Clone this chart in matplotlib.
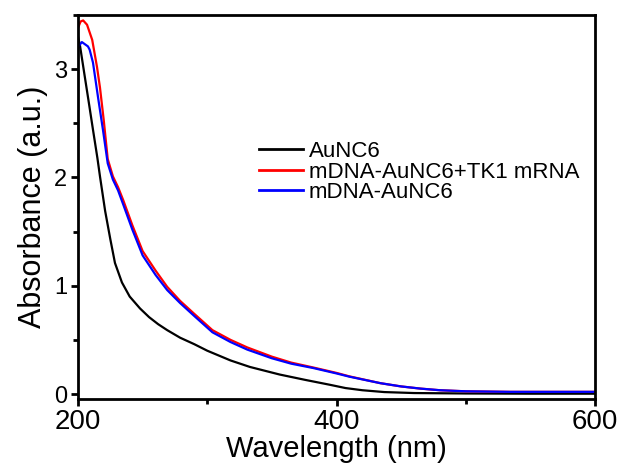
import matplotlib
matplotlib.use("Agg")
import matplotlib.pyplot as plt
from matplotlib.ticker import MultipleLocator

plt.rcParams['font.family'] = ['Liberation Sans', 'DejaVu Sans']

# Wavelength (nm) and absorbance values
wl_black = [200, 201.5, 205, 208, 211.6, 215, 217, 221, 225, 228.6, 234, 240, 248, 255, 262, 269, 279,
            290, 300, 318, 333, 356, 376, 395, 407, 420, 437, 460, 500, 550, 600]
abs_black = [3.30, 3.22, 2.95, 2.72, 2.44, 2.18, 2.01, 1.69, 1.43, 1.21, 1.03, 0.90, 0.79, 0.71, 0.645, 0.59, 0.52,
             0.46, 0.40, 0.31, 0.25, 0.18, 0.13, 0.085, 0.055, 0.035, 0.018, 0.009, 0.005, 0.003, 0.003]

wl_blue = [200, 201, 203, 207.7, 209, 211.6, 215.5, 219.3, 223, 227, 231, 235, 242, 250, 260, 269, 279,
           290, 304, 318, 331, 350, 365, 382, 400, 410, 434, 450, 465, 480, 500, 534, 560, 600]
abs_blue = [3.20, 3.22, 3.25, 3.21, 3.18, 3.06, 2.74, 2.44, 2.13, 1.98, 1.88, 1.75, 1.52, 1.28, 1.10, 0.96, 0.84,
            0.72, 0.57, 0.48, 0.41, 0.33, 0.28, 0.24, 0.19, 0.16, 0.10, 0.07, 0.05, 0.035, 0.025, 0.02, 0.02, 0.02]

wl_red = [200, 202, 204, 207, 211, 214.7, 217, 220, 223, 227, 231, 235, 242, 250, 260, 269, 279,
          290, 304, 318, 331, 350, 365, 382, 400, 410, 434, 450, 465, 480, 500, 534, 560, 600]
abs_red = [3.38, 3.44, 3.45, 3.41, 3.27, 3.02, 2.83, 2.52, 2.17, 2.01, 1.91, 1.79, 1.56, 1.32, 1.14, 0.99, 0.86,
           0.74, 0.59, 0.50, 0.43, 0.345, 0.29, 0.245, 0.195, 0.163, 0.10, 0.07, 0.05, 0.035, 0.025, 0.02, 0.02, 0.02]

labels = ["AuNC6", "mDNA-AuNC6+TK1 mRNA", "mDNA-AuNC6"]
colors = ["#000000", "#ff0000", "#0000ff"]

fig = plt.figure(figsize=(6.24, 4.68), dpi=100)
ax = fig.add_axes([78/624, 1-399/468, 517/624, 384/468])

ax.plot(wl_black, abs_black, color=colors[0], lw=1.6, label=labels[0])
ax.plot(wl_red, abs_red, color=colors[1], lw=1.6, label=labels[1])
ax.plot(wl_blue, abs_blue, color=colors[2], lw=1.6, label=labels[2])

ax.set_xlim(200, 600)
ax.set_ylim(-0.046, 3.5)
ax.xaxis.set_major_locator(MultipleLocator(200))
ax.xaxis.set_minor_locator(MultipleLocator(100))
ax.yaxis.set_major_locator(MultipleLocator(1))
ax.yaxis.set_minor_locator(MultipleLocator(0.5))

for s in ax.spines.values():
    s.set_linewidth(2)
ax.tick_params(which='both', direction='out', width=2, top=False, right=False)
ax.tick_params(which='major', length=5)
ax.tick_params(which='minor', length=3.5)
ax.tick_params(axis='x', labelsize=20, pad=2)
ax.tick_params(axis='y', labelsize=17, pad=3)

ax.set_xlabel("Wavelength (nm)", fontsize=21, labelpad=0)
ax.set_ylabel("Absorbance (a.u.)", fontsize=22, labelpad=4)

leg = ax.legend(loc='center left', bbox_to_anchor=((259-78)/517, (399-172)/384),
                frameon=False, fontsize=16, handlelength=2.0, handletextpad=0.25,
                labelspacing=-0.02, borderpad=0, borderaxespad=0)
for line in leg.get_lines():
    line.set_linewidth(2)

fig.savefig("out.png", dpi=100)
